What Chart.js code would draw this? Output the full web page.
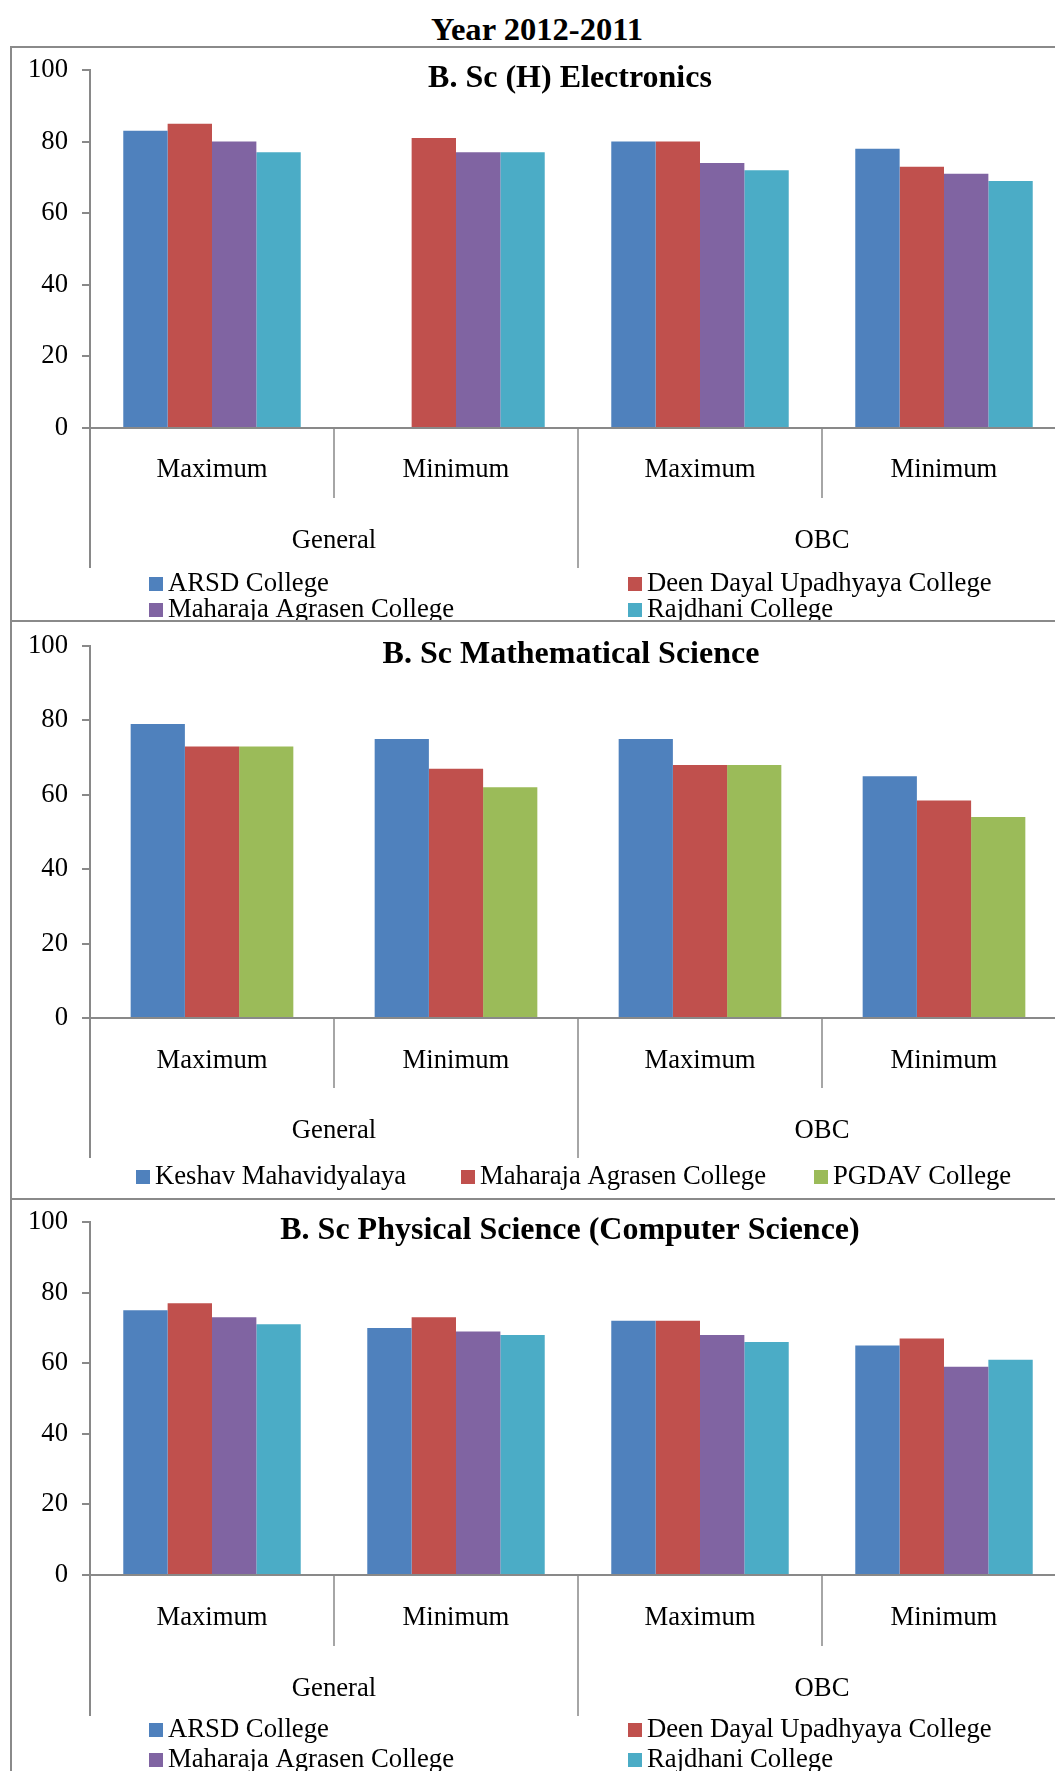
<!DOCTYPE html>
<html><head><meta charset="utf-8">
<script src="https://cdn.jsdelivr.net/npm/chart.js@4.4.1/dist/chart.umd.min.js"></script>
<style>
html,body{margin:0;padding:0;background:#fff;}
body{width:1055px;height:1771px;overflow:hidden;position:relative;}
.frame{position:absolute;left:10px;width:1120px;border:2px solid #8a8a8a;box-sizing:border-box;}
canvas{position:absolute;left:0;}
#mainTitle{position:absolute;left:0;width:1074px;top:13px;text-align:center;font:bold 32.6px/32px 'Liberation Serif','Times New Roman',serif;color:#000;white-space:nowrap;}
</style></head><body>
<div id="mainTitle">Year 2012-2011</div>
<div class="frame" style="top:46px;height:576px"></div>
<div class="frame" style="top:620px;height:580px"></div>
<div class="frame" style="top:1198px;height:700px"></div>
<canvas id="c1" width="1080" height="572" style="top:48px"></canvas>
<canvas id="c2" width="1080" height="576" style="top:622px"></canvas>
<canvas id="c3" width="1080" height="571" style="top:1200px"></canvas>
<script>
// ---------- DATA ----------
const categories = ['Maximum', 'Minimum', 'Maximum', 'Minimum'];
const groups = ['General', 'OBC'];
const yTicks = [0, 20, 40, 60, 80, 100];

const titles = ['B. Sc (H) Electronics', 'B. Sc Mathematical Science', 'B. Sc Physical Science (Computer Science)'];

const fourColleges = ['ARSD College', 'Deen Dayal Upadhyaya College', 'Maharaja Agrasen College', 'Rajdhani College'];
const mathColleges = ['Keshav Mahavidyalaya', 'Maharaja Agrasen College', 'PGDAV College'];

// B. Sc (H) Electronics
const elecARSD = [83, null, 80, 78];
const elecDDU = [85, 81, 80, 73];
const elecMAC = [80, 77, 74, 71];
const elecRajdhani = [77, 77, 72, 69];

// B. Sc Mathematical Science
const mathKeshav = [79, 75, 75, 65];
const mathMAC = [73, 67, 68, 58.5];
const mathPGDAV = [73, 62, 68, 54];

// B. Sc Physical Science (Computer Science)
const physARSD = [75, 70, 72, 65];
const physDDU = [77, 73, 72, 67];
const physMAC = [73, 69, 68, 59];
const physRajdhani = [71, 68, 66, 61];

// ---------- STYLE ----------
const FONT = "'Liberation Serif', 'Times New Roman', serif";
const FS = 26.7;
const AXIS = '#898989';
const COLORS4 = ['#4F81BD', '#C0504D', '#8064A2', '#4BACC6'];
const COLORS3 = ['#4F81BD', '#C0504D', '#9BBB59'];

Chart.defaults.font.family = FONT;
Chart.defaults.color = '#000';

const decor = {
  id: 'decor',
  afterDraw(chart, args, o) {
    const ctx = chart.ctx;
    const xs = chart.scales.x;
    const y0 = xs.top;
    const n = chart.data.labels.length;
    const step = xs.getPixelForValue(1) - xs.getPixelForValue(0);
    const left = xs.getPixelForValue(0) - step / 2;
    ctx.save();
    ctx.strokeStyle = AXIS;
    for (let i = 0; i <= n; i++) {
      const bx = Math.round(left + i * step);
      const len = (i % 2 === 0) ? o.groupDiv : o.catDiv;
      ctx.lineWidth = i === 0 ? 2 : 1.5;
      ctx.beginPath();
      ctx.moveTo(bx, y0);
      ctx.lineTo(bx, y0 + len);
      ctx.stroke();
    }
    ctx.fillStyle = '#000';
    ctx.textAlign = 'center';
    ctx.textBaseline = 'alphabetic';
    ctx.font = FS + 'px ' + FONT;
    groups.forEach((g, gi) => {
      ctx.fillText(g, left + (gi * 2 + 1) * step, y0 + o.groupLabel);
    });
    ctx.font = 'bold 32px ' + FONT;
    ctx.fillText(o.title, o.titleX, o.titleY);
    ctx.font = FS + 'px ' + FONT;
    ctx.textAlign = 'left';
    o.legend.forEach((p, di) => {
      const ds = chart.data.datasets[di];
      ctx.fillStyle = ds.backgroundColor;
      ctx.fillRect(p.x, y0 + p.dy, 14, 14);
      ctx.fillStyle = '#000';
      ctx.fillText(ds.label, p.x + 19, y0 + p.dy + 14);
    });
    ctx.restore();
  }
};

function makeChart(id, names, series, colors, L) {
  const canvas = document.getElementById(id);
  const H = canvas.height;
  const datasets = series.map((s, i) => ({
    label: names[i],
    data: s,
    backgroundColor: colors[i],
    borderWidth: 0,
    barPercentage: 1,
    categoryPercentage: names.length / (names.length + 1.5)
  }));
  return new Chart(canvas, {
    type: 'bar',
    data: { labels: categories, datasets },
    options: {
      responsive: false,
      animation: false,
      devicePixelRatio: 1,
      layout: { padding: { left: 0, right: 14, top: L.top, bottom: 0 } },
      plugins: {
        legend: { display: false },
        title: { display: false },
        tooltip: { enabled: false },
        decor: L.decor
      },
      scales: {
        x: {
          offset: true,
          grid: { display: true, drawOnChartArea: false, drawTicks: false, color: 'rgba(0,0,0,0)' },
          border: { display: true, color: AXIS, width: 2 },
          ticks: { font: { size: FS, family: FONT }, color: '#000', padding: L.labPad, maxRotation: 0, autoSkip: false },
          afterFit: s => { s.height = H - L.bottom; s.paddingLeft = 0; s.paddingRight = 0; }
        },
        y: {
          min: yTicks[0], max: yTicks[yTicks.length - 1],
          afterBuildTicks: s => { s.ticks = yTicks.map(v => ({ value: v })); },
          grid: { display: true, drawOnChartArea: false, drawTicks: true, tickLength: 8, color: AXIS, lineWidth: 2 },
          border: { display: true, color: AXIS, width: 2 },
          ticks: { font: { size: FS, family: FONT }, color: '#000', padding: 14 },
          afterFit: s => { s.width = 90; s.paddingTop = 0; s.paddingBottom = 0; }
        }
      }
    },
    plugins: [decor]
  });
}

makeChart('c1', fourColleges, [elecARSD, elecDDU, elecMAC, elecRajdhani], COLORS4, {
  top: 22, bottom: 380, labPad: 26,
  decor: { catDiv: 70, groupDiv: 140, groupLabel: 120, title: titles[0], titleX: 570, titleY: 39,
    legend: [{ x: 149, dy: 149 }, { x: 628, dy: 149 }, { x: 149, dy: 175 }, { x: 628, dy: 175 }] }
});
makeChart('c2', mathColleges, [mathKeshav, mathMAC, mathPGDAV], COLORS3, {
  top: 24, bottom: 396, labPad: 27,
  decor: { catDiv: 70, groupDiv: 140, groupLabel: 120, title: titles[1], titleX: 571, titleY: 41,
    legend: [{ x: 136, dy: 152 }, { x: 461, dy: 152 }, { x: 814, dy: 152 }] }
});
makeChart('c3', fourColleges, [physARSD, physDDU, physMAC, physRajdhani], COLORS4, {
  top: 22, bottom: 375, labPad: 27,
  decor: { catDiv: 71, groupDiv: 141, groupLabel: 121, title: titles[2], titleX: 570, titleY: 39,
    legend: [{ x: 149, dy: 148 }, { x: 628, dy: 148 }, { x: 149, dy: 178 }, { x: 628, dy: 178 }] }
});
</script>
</body></html>
